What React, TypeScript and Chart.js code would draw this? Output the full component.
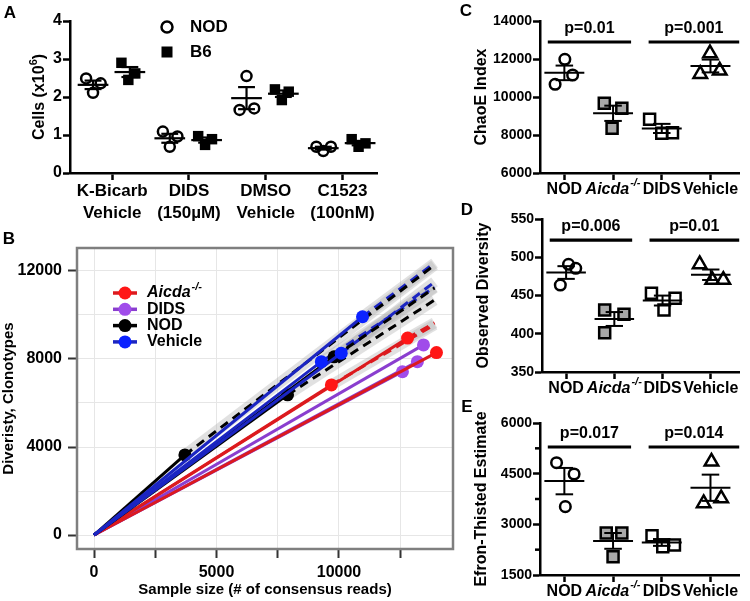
import React, { useEffect, useRef } from 'react';
import { Chart, registerables } from 'chart.js';

Chart.register(...registerables);

const W = 750;
const H = 601;
const FF = '"Liberation Sans", Arial, Helvetica, sans-serif';

// ---------------- Panel A data ----------------
const aCategoryLines = [['K-Bicarb', 'Vehicle'], ['DIDS', '(150µM)'], ['DMSO', 'Vehicle'], ['C1523', '(100nM)']];
const aYTicks = [0, 1, 2, 3, 4];
const aNOD = [[2.49, 2.11, 2.36], [1.09, 0.69, 0.96], [1.66, 2.55, 1.7], [0.69, 0.58, 0.69]];
const aB6 = [[2.9, 2.45, 2.62], [0.97, 0.74, 0.89], [2.2, 1.92, 2.14], [0.89, 0.69, 0.78]];
const aSeriesNames = ['NOD', 'B6'];

// ---------------- Panel B data ----------------
const bGroups = ['Aicda', 'DIDS', 'NOD', 'Vehicle'];
const bOrigin = { reads: 0, clonotypes: 0 };
const bObsReads = [[9690, 12800, 13980], [12590, 13200, 13450], [3710, 7900, 9800], [9280, 10090, 10960]];
const bObsClonotypes = [[6820, 8950, 8290], [7420, 7880, 8640], [3640, 6370, 8100], [7880, 8260, 9920]];
const bExtrapReads = [[13900, 13900, null], [null, null, null], [13900, 13900, 13900], [13900, 13900, 13900]];
const bExtrapClonotypes = [[9560, 9640, null], [null, null, null], [12270, 10680, 11230], [11270, 11500, 12360]];
const bXGrid = [0, 2500, 5000, 7500, 10000, 12500];
const bYGrid = [0, 2000, 4000, 6000, 8000, 10000, 12000];
const bXTicks = [0, 5000, 10000];
const bYTicks = [0, 4000, 8000, 12000];

// ---------------- Panels C/D/E data ----------------
const cdeCategories = ['NOD', 'Aicda', 'DIDS', 'Vehicle'];
const chaoE = [[10668, 11984, 11158], [9668, 9405, 8353], [8826, 8089, 8121], [11211, 12300, 11386]];
const observedDiversity = [[463.7, 490.8, 485.6], [431, 425.4, 401.4], [452.9, 446.3, 431], [490.8, 470.3, 470.3]];
const efronThisted = [[4825, 4490, 3523], [2743, 2743, 2043], [2664, 2339, 2388], [4855, 3623, 3770]];
const pValuesC = ['p=0.01', 'p=0.001'];
const pValuesD = ['p=0.006', 'p=0.01'];
const pValuesE = ['p=0.017', 'p=0.014'];
const cTicks = [6000, 8000, 10000, 12000, 14000];
const dTicks = [350, 400, 450, 500, 550];
const eTicks = [1500, 3000, 4500, 6000];
const eMinorTicks = [2250, 3750, 5250];

// ---------------- layout / style (not data) ----------------
type Geo = { L: number; T: number; R: number; B: number; yLeft: number; xBottom: number };
const aGeo: Geo = { L: 70, T: 21, R: 377, B: 173, yLeft: 20, xBottom: 235 };
const bGeo: Geo = { L: 77, T: 248, R: 453, B: 549, yLeft: 0, xBottom: 601 };
const cGeo: Geo = { L: 540, T: 21, R: 748, B: 173, yLeft: 472, xBottom: 200 };
const dGeo: Geo = { L: 542, T: 219, R: 750, B: 372, yLeft: 474, xBottom: 398 };
const eGeo: Geo = { L: 540, T: 423, R: 748, B: 575, yLeft: 472, xBottom: 600 };

const aNODJitter = [-0.34, -0.25, -0.15];
const aB6Jitter = [0.12, 0.21, 0.3];
const aMeanShift = [-0.25, 0.23];

const cJitter = [[-0.19, 0.01, 0.17], [-0.18, 0.18, -0.02], [-0.25, 0.0, 0.22], [-0.21, -0.01, 0.19]];
const dJitter = [[-0.12, 0.05, 0.2], [-0.2, 0.2, -0.2], [-0.23, 0.26, 0.03], [-0.23, 0.03, 0.26]];
const eJitter = [[-0.16, 0.2, 0.02], [-0.14, 0.18, 0.0], [-0.2, 0.02, 0.26], [0.02, -0.14, 0.22]];
const pBarSpans = [[0.66, 2.37], [2.73, 4.59]];

const bLineColors = ['#DC1A1E', '#8A3ECF', '#000000', '#1B25C2'];
const bPointColors = ['#FF1616', '#A04CEA', '#000000', '#0B22FF'];
const bDrawOrder = [2, 3, 1, 0];

function mean(a: number[]) {
  return a.reduce((s, v) => s + v, 0) / a.length;
}
function sem(a: number[]) {
  const m = mean(a);
  const v = a.reduce((s, x) => s + (x - m) * (x - m), 0) / (a.length - 1);
  return Math.sqrt(v / a.length);
}

function baseOptions(geo: Geo): any {
  return {
    responsive: false,
    animation: false,
    devicePixelRatio: 1,
    events: [],
    layout: { padding: { left: geo.yLeft, top: geo.T, right: W - geo.R, bottom: H - geo.xBottom } },
    plugins: { legend: { display: false }, tooltip: { enabled: false } },
  };
}
function fitY(geo: Geo) {
  return (s: any) => {
    s.width = geo.L - geo.yLeft;
    s.paddingTop = 0; s.paddingBottom = 0; s.paddingLeft = 0; s.paddingRight = 0;
  };
}
function fitX(geo: Geo) {
  return (s: any) => {
    s.height = geo.xBottom - geo.B;
    s.paddingTop = 0; s.paddingBottom = 0; s.paddingLeft = 0; s.paddingRight = 0;
  };
}

function bold(size: number, italic = false) {
  return `${italic ? 'italic ' : ''}bold ${size}px ${FF}`;
}

function drawAicda(ctx: CanvasRenderingContext2D, x: number, y: number, size: number, align: 'center' | 'left') {
  ctx.save();
  ctx.textBaseline = 'middle';
  ctx.textAlign = 'left';
  ctx.font = bold(size, true);
  const w1 = ctx.measureText('Aicda').width;
  ctx.font = bold(Math.round(size * 0.68), true);
  const w2 = ctx.measureText('-/-').width;
  const start = align === 'center' ? x - (w1 + w2 + 1) / 2 : x;
  ctx.font = bold(size, true);
  ctx.fillText('Aicda', start, y);
  ctx.font = bold(Math.round(size * 0.68), true);
  ctx.fillText('-/-', start + w1 + 1, y - size * 0.38);
  ctx.restore();
}

function drawLetter(ctx: CanvasRenderingContext2D, letter: string, x: number, y: number) {
  ctx.save();
  ctx.font = bold(17);
  ctx.fillStyle = '#000';
  ctx.textAlign = 'center';
  ctx.textBaseline = 'middle';
  ctx.fillText(letter, x, y);
  ctx.restore();
}

// ---------------- Panel A ----------------
function configA(): any {
  const pointsFor = (series: number[][], jitter: number[]) =>
    series.flatMap((vals, i) => vals.map((v, j) => ({ x: i + 1 + jitter[j], y: v })));
  const axisGrid = { drawOnChartArea: false, drawTicks: true, tickLength: 7, tickWidth: 2.5, tickColor: '#000' };
  const plugin = {
    id: 'panelA',
    afterDatasetsDraw(chart: any) {
      const { ctx, scales, chartArea } = chart;
      const x = scales.x, y = scales.y;
      ctx.save();
      ctx.strokeStyle = '#000';
      ctx.lineWidth = 2.2;
      const h = (x1: number, x2: number, v: number) => {
        ctx.beginPath();
        ctx.moveTo(x.getPixelForValue(x1), y.getPixelForValue(v));
        ctx.lineTo(x.getPixelForValue(x2), y.getPixelForValue(v));
        ctx.stroke();
      };
      [aNOD, aB6].forEach((series, si) => {
        series.forEach((vals, i) => {
          const c = i + 1 + aMeanShift[si];
          const m = mean(vals);
          const e = sem(vals);
          h(c - 0.2, c + 0.2, m);
          ctx.beginPath();
          ctx.moveTo(x.getPixelForValue(c), y.getPixelForValue(m - e));
          ctx.lineTo(x.getPixelForValue(c), y.getPixelForValue(m + e));
          ctx.stroke();
          h(c - 0.11, c + 0.11, m - e);
          h(c - 0.11, c + 0.11, m + e);
        });
      });
      // legend
      const lx = chartArea.left + 97;
      const ly1 = chartArea.top + 6;
      const ly2 = chartArea.top + 31;
      ctx.lineWidth = 2.5;
      ctx.beginPath();
      ctx.arc(lx, ly1, 5.5, 0, Math.PI * 2);
      ctx.stroke();
      ctx.fillStyle = '#000';
      ctx.fillRect(lx - 5.5, ly2 - 5.5, 11, 11);
      ctx.font = bold(17);
      ctx.textBaseline = 'middle';
      ctx.textAlign = 'left';
      ctx.fillText(aSeriesNames[0], lx + 23, ly1);
      ctx.fillText(aSeriesNames[1], lx + 23, ly2);
      // y title with superscript
      ctx.save();
      ctx.translate(40, (chartArea.top + chartArea.bottom) / 2);
      ctx.rotate(-Math.PI / 2);
      ctx.font = bold(16);
      const t1 = 'Cells (x10';
      const w1 = ctx.measureText(t1).width;
      ctx.font = bold(11);
      const w2 = ctx.measureText('6').width;
      ctx.font = bold(16);
      const w3 = ctx.measureText(')').width;
      let sx = -(w1 + w2 + w3) / 2;
      ctx.fillText(t1, sx, 0);
      sx += w1;
      ctx.font = bold(11);
      ctx.fillText('6', sx, -6);
      sx += w2;
      ctx.font = bold(16);
      ctx.fillText(')', sx, 0);
      ctx.restore();
      ctx.restore();
      drawLetter(ctx, 'A', 10, 13);
    },
  };
  return {
    type: 'scatter',
    data: {
      datasets: [
        {
          label: aSeriesNames[0],
          data: pointsFor(aNOD, aNODJitter),
          pointStyle: 'circle',
          pointRadius: 5,
          pointBorderWidth: 2.5,
          pointBorderColor: '#000',
          pointBackgroundColor: 'rgba(0,0,0,0)',
        },
        {
          label: aSeriesNames[1],
          data: pointsFor(aB6, aB6Jitter),
          pointStyle: 'rect',
          pointRadius: 7.4,
          pointBorderWidth: 0,
          pointBackgroundColor: '#000',
        },
      ],
    },
    options: {
      ...baseOptions(aGeo),
      scales: {
        x: {
          type: 'linear',
          min: 0.45,
          max: 4.45,
          afterFit: fitX(aGeo),
          afterBuildTicks: (s: any) => {
            s.ticks = aCategoryLines.map((_, i) => ({ value: i + 1 }));
          },
          ticks: {
            autoSkip: false,
            maxRotation: 0,
            minRotation: 0,
            padding: 0,
            color: '#000',
            font: { family: FF, size: 17, weight: 'bold', lineHeight: 1.3 },
            callback: (v: number) => aCategoryLines[Math.round(v) - 1],
          },
          grid: axisGrid,
          border: { display: true, color: '#000', width: 2.5 },
        },
        y: {
          type: 'linear',
          min: 0,
          max: 4,
          afterFit: fitY(aGeo),
          afterBuildTicks: (s: any) => {
            s.ticks = aYTicks.map((v) => ({ value: v }));
          },
          ticks: { padding: 1, color: '#000', font: { family: FF, size: 16, weight: 'bold' }, callback: (v: number) => String(v) },
          grid: axisGrid,
          border: { display: true, color: '#000', width: 2.5 },
        },
      },
    },
    plugins: [plugin],
  };
}

// ---------------- Panel B ----------------
function configB(): any {
  const datasets: any[] = [];
  bGroups.forEach((_, gi) => {
    bObsReads[gi].forEach((n, k) => {
      const s = bObsClonotypes[gi][k];
      const en = bExtrapReads[gi][k];
      const es = bExtrapClonotypes[gi][k];
      if (en != null && es != null) {
        const seg = [{ x: n, y: s }, { x: en, y: es }];
        datasets.push({
          data: seg, showLine: true, borderColor: 'rgba(175,175,175,0.38)', borderWidth: 11,
          pointRadius: 0, order: 20, borderCapStyle: 'butt',
        });
        datasets.push({
          data: seg, showLine: true, borderColor: bLineColors[gi], borderWidth: 3, borderDash: [9, 6],
          pointRadius: 0, order: 10,
        });
      }
      datasets.push({
        data: [{ x: bOrigin.reads, y: bOrigin.clonotypes }, { x: n, y: s }],
        showLine: true,
        borderColor: bLineColors[gi],
        borderWidth: 3,
        pointRadius: [0, 6.5],
        pointBackgroundColor: bPointColors[gi],
        pointBorderWidth: 0,
        order: bDrawOrder[gi],
      });
    });
  });
  const plugin = {
    id: 'panelB',
    afterDatasetsDraw(chart: any) {
      const { ctx, chartArea } = chart;
      ctx.save();
      ctx.strokeStyle = '#7F7F7F';
      ctx.lineWidth = 2.5;
      ctx.strokeRect(chartArea.left, chartArea.top, chartArea.right - chartArea.left, chartArea.bottom - chartArea.top);
      // legend
      const x0 = chartArea.left + 36;
      const x1 = chartArea.left + 60;
      const xt = chartArea.left + 70;
      bGroups.forEach((g, gi) => {
        const yy = chartArea.top + 45 + gi * 16.3;
        ctx.strokeStyle = bLineColors[gi];
        ctx.lineWidth = 3.5;
        ctx.beginPath();
        ctx.moveTo(x0, yy);
        ctx.lineTo(x1, yy);
        ctx.stroke();
        ctx.fillStyle = bPointColors[gi];
        ctx.beginPath();
        ctx.arc((x0 + x1) / 2, yy, 6.5, 0, Math.PI * 2);
        ctx.fill();
        ctx.fillStyle = '#000';
        if (g === 'Aicda') {
          drawAicda(ctx, xt, yy, 16, 'left');
        } else {
          ctx.font = bold(16);
          ctx.textAlign = 'left';
          ctx.textBaseline = 'middle';
          ctx.fillText(g, xt, yy);
        }
      });
      ctx.restore();
      drawLetter(ctx, 'B', 9, 239);
    },
  };
  return {
    type: 'scatter',
    data: { datasets },
    options: {
      ...baseOptions(bGeo),
      scales: {
        x: {
          type: 'linear',
          min: -694,
          max: 14654,
          afterFit: fitX(bGeo),
          afterBuildTicks: (s: any) => {
            s.ticks = bXGrid.map((v) => ({ value: v }));
          },
          ticks: {
            autoSkip: false,
            maxRotation: 0,
            minRotation: 0,
            padding: 5,
            color: '#000',
            font: { family: FF, size: 16, weight: 'bold' },
            callback: (v: number) => (bXTicks.indexOf(Math.round(v)) >= 0 ? String(Math.round(v)) : ''),
          },
          grid: { color: '#E6E6E6', lineWidth: 1, drawTicks: true, tickLength: 9, tickWidth: 2, tickColor: '#333' },
          border: { display: false },
          title: {
            display: true,
            text: 'Sample size (# of consensus reads)',
            color: '#000',
            font: { family: FF, size: 15, weight: 'bold', lineHeight: 1.2 },
            padding: { top: 0, bottom: 2 },
          },
        },
        y: {
          type: 'linear',
          min: -636,
          max: 13045,
          afterFit: fitY(bGeo),
          afterBuildTicks: (s: any) => {
            s.ticks = bYGrid.map((v) => ({ value: v }));
          },
          ticks: {
            autoSkip: false,
            padding: 6,
            color: '#000',
            font: { family: FF, size: 16, weight: 'bold' },
            callback: (v: number) => (bYTicks.indexOf(Math.round(v)) >= 0 ? String(Math.round(v)) : ''),
          },
          grid: {
            color: '#E6E6E6',
            lineWidth: 1,
            drawTicks: true,
            tickLength: 9,
            tickWidth: 2,
            tickColor: (c: any) =>
              c.tick && bYTicks.indexOf(Math.round(c.tick.value)) >= 0 ? '#333' : 'rgba(0,0,0,0)',
          },
          border: { display: false },
          title: {
            display: true,
            text: 'Diveristy, Clonotypes',
            color: '#000',
            font: { family: FF, size: 15, weight: 'bold', lineHeight: 1.2 },
            padding: { top: 0, bottom: 0 },
          },
        },
      },
    },
    plugins: [plugin],
  };
}

// ---------------- Panels C/D/E ----------------
type StatPanel = {
  id: string;
  letter: string;
  letterPos: [number, number];
  title: string;
  values: number[][];
  jitter: number[][];
  pLabels: string[];
  geo: Geo;
  yMin: number;
  yMax: number;
  yTicks: number[];
  minorTicks: number[];
  barY: number;
};

const catStyles = [
  { pointStyle: 'circle', pointRadius: 5.3, bg: 'rgba(0,0,0,0)' },
  { pointStyle: 'rect', pointRadius: 7.8, bg: '#A8A8A8' },
  { pointStyle: 'rect', pointRadius: 7.8, bg: 'rgba(0,0,0,0)' },
  { pointStyle: 'triangle', pointRadius: 7.8, bg: 'rgba(0,0,0,0)' },
];

function configStat(p: StatPanel): any {
  const datasets = p.values.map((vals, i) => ({
    label: cdeCategories[i],
    data: vals.map((v, j) => ({ x: i + 1 + p.jitter[i][j], y: v })),
    pointStyle: catStyles[i].pointStyle,
    pointRadius: catStyles[i].pointRadius,
    pointBorderWidth: 2.5,
    pointBorderColor: '#000',
    pointBackgroundColor: catStyles[i].bg,
  }));
  const axisGrid = { drawOnChartArea: false, drawTicks: true, tickLength: 7, tickWidth: 2.5, tickColor: '#000' };
  const plugin = {
    id: 'stat' + p.id,
    afterDatasetsDraw(chart: any) {
      const { ctx, scales, chartArea } = chart;
      const x = scales.x, y = scales.y;
      ctx.save();
      ctx.strokeStyle = '#000';
      ctx.fillStyle = '#000';
      const h = (x1: number, x2: number, v: number) => {
        ctx.beginPath();
        ctx.moveTo(x.getPixelForValue(x1), y.getPixelForValue(v));
        ctx.lineTo(x.getPixelForValue(x2), y.getPixelForValue(v));
        ctx.stroke();
      };
      ctx.lineWidth = 2;
      p.values.forEach((vals, i) => {
        const c = i + 1;
        const m = mean(vals);
        const e = sem(vals);
        h(c - 0.41, c + 0.41, m);
        ctx.beginPath();
        ctx.moveTo(x.getPixelForValue(c), y.getPixelForValue(m - e));
        ctx.lineTo(x.getPixelForValue(c), y.getPixelForValue(m + e));
        ctx.stroke();
        h(c - 0.18, c + 0.18, m - e);
        h(c - 0.18, c + 0.18, m + e);
      });
      // p-value bars
      ctx.lineWidth = 3.2;
      ctx.font = bold(16);
      ctx.textAlign = 'center';
      ctx.textBaseline = 'middle';
      pBarSpans.forEach((span, k) => {
        h(span[0], span[1], p.barY);
        const cx = (x.getPixelForValue(span[0]) + x.getPixelForValue(span[1])) / 2;
        ctx.fillText(p.pLabels[k], cx, y.getPixelForValue(p.barY) - 13.5);
      });
      // minor ticks
      ctx.lineWidth = 2.5;
      p.minorTicks.forEach((v) => {
        ctx.beginPath();
        ctx.moveTo(chartArea.left - 5, y.getPixelForValue(v));
        ctx.lineTo(chartArea.left, y.getPixelForValue(v));
        ctx.stroke();
      });
      // category labels
      cdeCategories.forEach((cat, i) => {
        const cx = x.getPixelForValue(i + 1);
        const cy = chartArea.bottom + 16.5;
        if (cat === 'Aicda') {
          drawAicda(ctx, cx, cy, 16, 'center');
        } else {
          ctx.font = bold(16);
          ctx.textAlign = 'center';
          ctx.textBaseline = 'middle';
          ctx.fillText(cat, cx, cy);
        }
      });
      ctx.restore();
      drawLetter(ctx, p.letter, p.letterPos[0], p.letterPos[1]);
    },
  };
  return {
    type: 'scatter',
    data: { datasets },
    options: {
      ...baseOptions(p.geo),
      scales: {
        x: {
          type: 'linear',
          min: 0.5,
          max: 4.6,
          afterFit: fitX(p.geo),
          afterBuildTicks: (s: any) => {
            s.ticks = cdeCategories.map((_, i) => ({ value: i + 1 }));
          },
          ticks: { display: false },
          grid: axisGrid,
          border: { display: true, color: '#000', width: 2.5 },
        },
        y: {
          type: 'linear',
          min: p.yMin,
          max: p.yMax,
          afterFit: fitY(p.geo),
          afterBuildTicks: (s: any) => {
            s.ticks = p.yTicks.map((v) => ({ value: v }));
          },
          ticks: {
            padding: 1,
            color: '#000',
            font: { family: FF, size: 14, weight: 'bold' },
            callback: (v: number) => String(v),
          },
          grid: axisGrid,
          border: { display: true, color: '#000', width: 2.5 },
          title: {
            display: true,
            text: p.title,
            color: '#000',
            font: { family: FF, size: 16, weight: 'bold', lineHeight: 1.2 },
            padding: { top: 0, bottom: 0 },
          },
        },
      },
    },
    plugins: [plugin],
  };
}

const panelC: StatPanel = {
  id: 'C', letter: 'C', letterPos: [466, 11], title: 'ChaoE Index', values: chaoE, jitter: cJitter,
  pLabels: pValuesC, geo: cGeo, yMin: 6000, yMax: 14000, yTicks: cTicks, minorTicks: [], barY: 12895,
};
const panelD: StatPanel = {
  id: 'D', letter: 'D', letterPos: [467, 210], title: 'Observed Diversity', values: observedDiversity, jitter: dJitter,
  pLabels: pValuesD, geo: dGeo, yMin: 350, yMax: 550, yTicks: dTicks, minorTicks: [], barY: 522.5,
};
const panelE: StatPanel = {
  id: 'E', letter: 'E', letterPos: [467, 407], title: 'Efron-Thisted Estimate', values: efronThisted, jitter: eJitter,
  pLabels: pValuesE, geo: eGeo, yMin: 1500, yMax: 6000, yTicks: eTicks, minorTicks: eMinorTicks, barY: 5290,
};

export default function App() {
  const r0 = useRef<HTMLCanvasElement>(null);
  const r1 = useRef<HTMLCanvasElement>(null);
  const r2 = useRef<HTMLCanvasElement>(null);
  const r3 = useRef<HTMLCanvasElement>(null);
  const r4 = useRef<HTMLCanvasElement>(null);
  const refs = [r0, r1, r2, r3, r4];

  useEffect(() => {
    const configs = [configA(), configB(), configStat(panelC), configStat(panelD), configStat(panelE)];
    const charts = configs.map((cfg, i) => new Chart(refs[i].current as HTMLCanvasElement, cfg));
    return () => charts.forEach((c) => c.destroy());
  }, []);

  return (
    <div style={{ position: 'absolute', left: 0, top: 0, width: W, height: H, background: '#fff', overflow: 'hidden' }}>
      {refs.map((r, i) => (
        <canvas key={i} ref={r} width={W} height={H} style={{ position: 'absolute', left: 0, top: 0, width: W, height: H }} />
      ))}
    </div>
  );
}
